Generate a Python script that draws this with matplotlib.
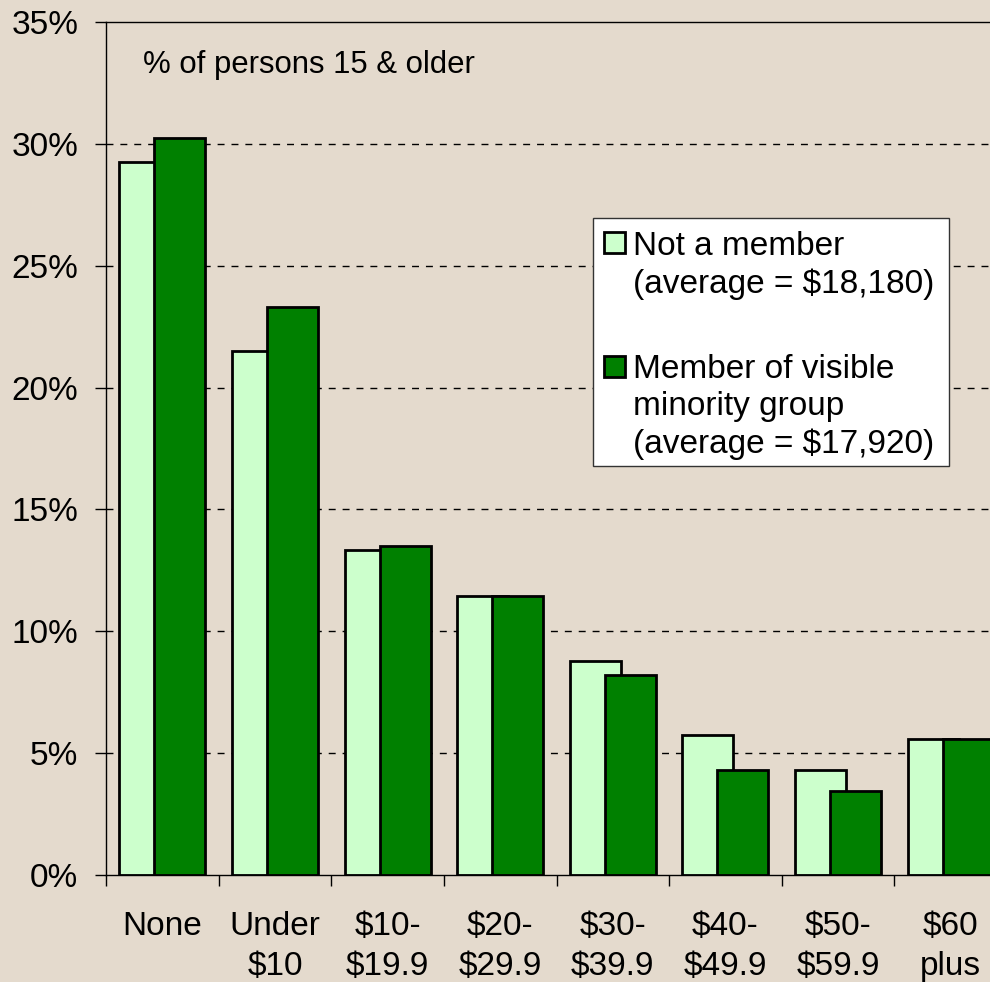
import numpy as np
import matplotlib
matplotlib.use('Agg')
import matplotlib.pyplot as plt
from matplotlib.patches import Rectangle

plt.rcParams['font.family'] = ['Liberation Sans', 'DejaVu Sans']

# Income groups (thousands of dollars) and shares of persons 15 & older
categories = ['None', 'Under\n$10', '$10-\n$19.9', '$20-\n$29.9', '$30-\n$39.9',
              '$40-\n$49.9', '$50-\n$59.9', '$60\nplus']
not_member = [29.25, 21.5, 13.35, 11.45, 8.8, 5.75, 4.3, 5.6]
visible_minority = [30.25, 23.3, 13.5, 11.45, 8.2, 4.3, 3.45, 5.6]
legend_labels = ['Not a member\n(average = $18,180)',
                 'Member of visible\nminority group\n(average = $17,920)']
yticks = [0, 5, 10, 15, 20, 25, 30, 35]

light = '#ccffcc'
dark = '#008000'
bg = '#e4dacd'
fs = 24

fig = plt.figure(figsize=(9.9, 9.82), dpi=100, facecolor=bg)
ax = fig.add_axes([106/990, 1 - 875/982, 901/990, (875 - 22)/982])
ax.set_facecolor(bg)

x = np.arange(len(categories))
w = 0.453
off = 0.155
ax.bar(x - off, not_member, w, color=light, edgecolor='black', linewidth=2.0, zorder=2)
ax.bar(x + off, visible_minority, w, color=dark, edgecolor='black', linewidth=2.0, zorder=3)

ax.set_xlim(-0.5, len(categories) - 0.5)
ax.set_ylim(0, 35)
ax.set_yticks(yticks)
ax.set_yticklabels(['%d%%' % t for t in yticks], fontsize=fs)
for t in yticks[1:-1]:
    ax.axhline(t, color='black', lw=1.0, ls=(0, (5, 5)), zorder=1)

ax.set_xticks(x)
ax.set_xticklabels(categories, fontsize=fs, va='top', linespacing=1.38)
ax.set_xticks(np.arange(-0.5, len(categories) - 0.5, 1), minor=True)
ax.tick_params(axis='x', which='major', length=0, pad=26)
ax.tick_params(axis='x', which='minor', length=8, width=1, direction='out')
ax.tick_params(axis='y', length=8, width=1, direction='out', pad=12)

for s in ['top', 'left', 'bottom', 'right']:
    ax.spines[s].set_linewidth(1.0)

ax.text((143 - 106)/901, 1 - (73 - 22)/853, '% of persons 15 & older', transform=ax.transAxes,
        fontsize=22.4, ha='left', va='baseline')

# legend box drawn in figure pixels
def fx(px):
    return px/990

def fy(py):
    return 1 - py/982

fig.patches.append(Rectangle((fx(593), fy(466)), fx(949) - fx(593), fy(218) - fy(466),
                             transform=fig.transFigure, facecolor='white',
                             edgecolor='#333333', linewidth=1.0, zorder=5))
for (ytop, base, col, lab) in [(232, 293, light, legend_labels[0]),
                               (356, 453, dark, legend_labels[1])]:
    fig.patches.append(Rectangle((fx(604), fy(ytop + 21)), fx(21), 21/982,
                                 transform=fig.transFigure, facecolor=col,
                                 edgecolor='black', linewidth=2.0, zorder=6))
    fig.text(fx(633), fy(base), lab, fontsize=fs, ha='left', va='baseline',
             linespacing=1.26, zorder=7)

fig.savefig('out.png', dpi=100, facecolor=bg)
